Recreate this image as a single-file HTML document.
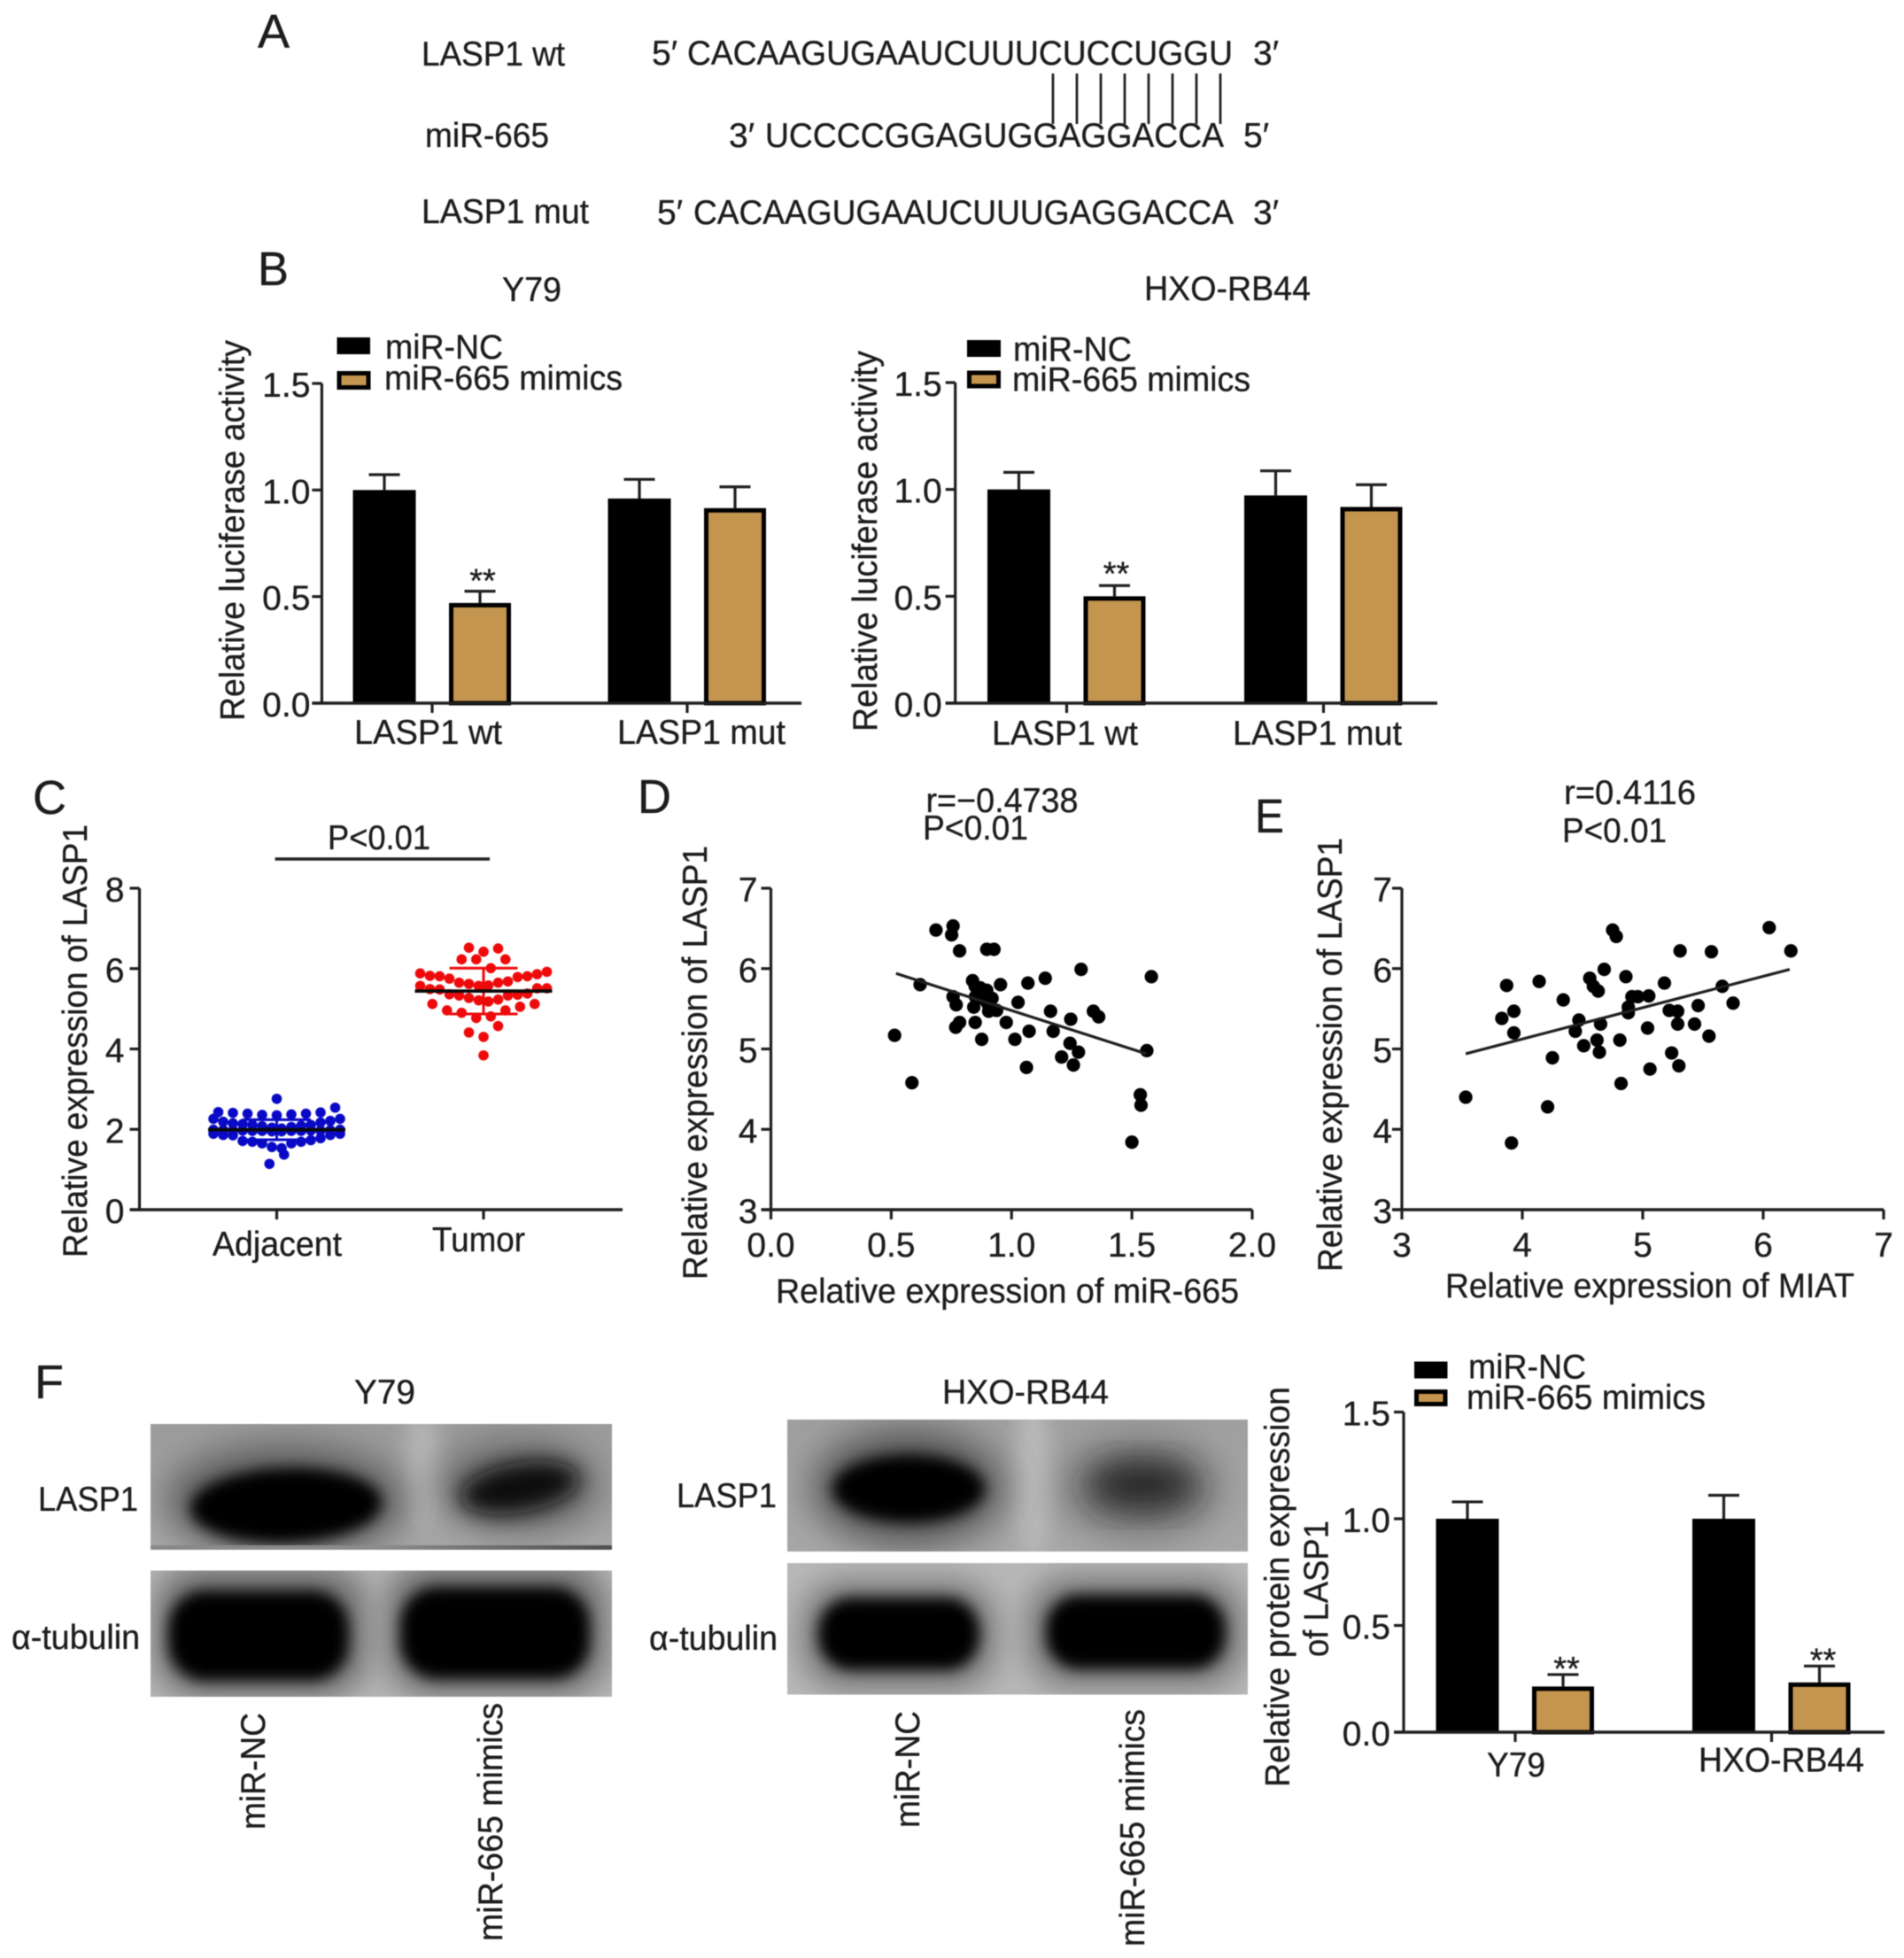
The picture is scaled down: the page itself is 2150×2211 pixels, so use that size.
<!DOCTYPE html>
<html lang="en">
<head>
<meta charset="utf-8">
<title>LASP1 and miR-665 figure</title>
<style>
html,body{margin:0;padding:0;background:#fff;}
#figure{display:block;width:2150px;height:2211px;filter:blur(0.6px);}
text{font-family:"Liberation Sans",sans-serif;font-size:39px;fill:#1c1c1c;stroke:#1c1c1c;stroke-width:0.35px;}
.letter{font-size:54px;}
</style>
</head>
<body>
<svg id="figure" xmlns="http://www.w3.org/2000/svg" width="2150" height="2211" viewBox="0 0 2150 2211">
<defs>
  <filter id="blur-core" x="-40%" y="-40%" width="180%" height="180%"><feGaussianBlur stdDeviation="8"/></filter>
  <filter id="blur-small" x="-40%" y="-40%" width="180%" height="180%"><feGaussianBlur stdDeviation="12"/></filter>
  <filter id="blur-mid" x="-40%" y="-40%" width="180%" height="180%"><feGaussianBlur stdDeviation="17"/></filter>
  <filter id="blur-large" x="-50%" y="-50%" width="200%" height="200%"><feGaussianBlur stdDeviation="22"/></filter>
  <clipPath id="clip-y79-lasp1"><rect x="170" y="1608" width="521" height="142"/></clipPath>
  <clipPath id="clip-y79-tubulin"><rect x="170" y="1773.5" width="521" height="142.5"/></clipPath>
  <clipPath id="clip-hxo-lasp1"><rect x="889" y="1603" width="520" height="149"/></clipPath>
  <clipPath id="clip-hxo-tubulin"><rect x="889" y="1765" width="520" height="148.6"/></clipPath>
  <linearGradient id="grad-y79-top" x1="0" y1="0" x2="0" y2="1"><stop offset="0" stop-color="#9c9c9c"/><stop offset="1" stop-color="#a8a8a8"/></linearGradient>
  <linearGradient id="grad-hxo-top" x1="0" y1="0" x2="0" y2="1"><stop offset="0" stop-color="#a0a0a0"/><stop offset="1" stop-color="#a8a8a8"/></linearGradient>
  <linearGradient id="grad-y79-edge" x1="0" y1="0" x2="1" y2="0"><stop offset="0" stop-color="#888"/><stop offset="0.5" stop-color="#8c8c8c"/><stop offset="1" stop-color="#4e4e4e"/></linearGradient>
</defs>
<rect x="0" y="0" width="2150" height="2211" fill="#ffffff"/>

<g>
  <text class="letter" x="291" y="54" textLength="36" lengthAdjust="spacingAndGlyphs">A</text>
  <text x="476" y="74" textLength="162" lengthAdjust="spacingAndGlyphs">LASP1 wt</text>
  <text x="480" y="166" textLength="140" lengthAdjust="spacingAndGlyphs">miR-665</text>
  <text x="476" y="252" textLength="189" lengthAdjust="spacingAndGlyphs">LASP1 mut</text>
  <text x="736" y="73">5′</text>
  <text x="776" y="73" textLength="616" lengthAdjust="spacingAndGlyphs">CACAAGUGAAUCUUUCUCCUGGU</text>
  <text x="1415" y="73">3′</text>
  <text x="823" y="166">3′</text>
  <text x="864" y="166" textLength="518" lengthAdjust="spacingAndGlyphs">UCCCCGGAGUGGAGGACCA</text>
  <text x="1404" y="166">5′</text>
  <text x="742" y="253">5′</text>
  <text x="783" y="253" textLength="610" lengthAdjust="spacingAndGlyphs">CACAAGUGAAUCUUUGAGGACCA</text>
  <text x="1415" y="253">3′</text>
  <g stroke="#222" stroke-width="2.8">
    <line x1="1189" y1="83" x2="1189" y2="140"/>
    <line x1="1216" y1="83" x2="1216" y2="140"/>
    <line x1="1243" y1="83" x2="1243" y2="140"/>
    <line x1="1270" y1="83" x2="1270" y2="140"/>
    <line x1="1297" y1="83" x2="1297" y2="140"/>
    <line x1="1324" y1="83" x2="1324" y2="140"/>
    <line x1="1351" y1="83" x2="1351" y2="140"/>
    <line x1="1378" y1="83" x2="1378" y2="140"/>
  </g>
</g>

<g>
  <text class="letter" x="291" y="322" textLength="35" lengthAdjust="spacingAndGlyphs">B</text>
  <text x="567" y="340" textLength="67" lengthAdjust="spacingAndGlyphs">Y79</text>
  <text x="1292" y="339" textLength="188" lengthAdjust="spacingAndGlyphs">HXO-RB44</text>
  <text transform="translate(275.5,814) rotate(-90)" textLength="430" lengthAdjust="spacingAndGlyphs">Relative luciferase activity</text>
  <text transform="translate(990,826) rotate(-90)" textLength="430" lengthAdjust="spacingAndGlyphs">Relative luciferase activity</text>
  <rect x="380.5" y="381" width="37.5" height="19" fill="#000"/>
  <rect x="383" y="421.5" width="33" height="16" fill="#c4954f" stroke="#000" stroke-width="5"/>
  <text x="435" y="405" textLength="133" lengthAdjust="spacingAndGlyphs">miR-NC</text>
  <text x="434" y="440" textLength="269" lengthAdjust="spacingAndGlyphs">miR-665 mimics</text>
  <rect x="1092" y="384" width="38" height="19" fill="#000"/>
  <rect x="1094.5" y="421" width="33" height="15" fill="#c4954f" stroke="#000" stroke-width="5"/>
  <text x="1144" y="407.6" textLength="134" lengthAdjust="spacingAndGlyphs">miR-NC</text>
  <text x="1143" y="441.7" textLength="269" lengthAdjust="spacingAndGlyphs">miR-665 mimics</text>
  <text x="400" y="840" textLength="167" lengthAdjust="spacingAndGlyphs">LASP1 wt</text>
  <text x="697" y="840" textLength="190" lengthAdjust="spacingAndGlyphs">LASP1 mut</text>
  <text x="1120" y="841" textLength="165" lengthAdjust="spacingAndGlyphs">LASP1 wt</text>
  <text x="1392" y="841" textLength="191" lengthAdjust="spacingAndGlyphs">LASP1 mut</text>
</g>

<g>
  <text class="letter" x="37" y="919" textLength="38" lengthAdjust="spacingAndGlyphs">C</text>
  <text x="370" y="959" textLength="116" lengthAdjust="spacingAndGlyphs">P&lt;0.01</text>
  <line x1="310.6" y1="970" x2="553" y2="970" stroke="#222" stroke-width="3.6"/>
  <text transform="translate(98,1420) rotate(-90)" textLength="489" lengthAdjust="spacingAndGlyphs">Relative expression of LASP1</text>
  <text x="240" y="1418" textLength="146" lengthAdjust="spacingAndGlyphs">Adjacent</text>
  <text x="488" y="1413" textLength="105" lengthAdjust="spacingAndGlyphs">Tumor</text>
</g>

<g>
  <text class="letter" x="720" y="918" textLength="38" lengthAdjust="spacingAndGlyphs">D</text>
  <text x="1045.5" y="917" textLength="172" lengthAdjust="spacingAndGlyphs">r=−0.4738</text>
  <text x="1042" y="948" textLength="119" lengthAdjust="spacingAndGlyphs">P&lt;0.01</text>
  <text transform="translate(798,1445) rotate(-90)" textLength="490" lengthAdjust="spacingAndGlyphs">Relative expression of LASP1</text>
  <text x="876" y="1471" textLength="523" lengthAdjust="spacingAndGlyphs">Relative expression of miR-665</text>
</g>

<g>
  <text class="letter" x="1417" y="940" textLength="33" lengthAdjust="spacingAndGlyphs">E</text>
  <text x="1766" y="908" textLength="149" lengthAdjust="spacingAndGlyphs">r=0.4116</text>
  <text x="1764" y="951" textLength="118" lengthAdjust="spacingAndGlyphs">P&lt;0.01</text>
  <text transform="translate(1515,1436) rotate(-90)" textLength="490" lengthAdjust="spacingAndGlyphs">Relative expression of LASP1</text>
  <text x="1632" y="1465" textLength="462" lengthAdjust="spacingAndGlyphs">Relative expression of MIAT</text>
</g>

<g>
  <text class="letter" x="39" y="1579" textLength="33" lengthAdjust="spacingAndGlyphs">F</text>
  <text x="400" y="1585" textLength="69" lengthAdjust="spacingAndGlyphs">Y79</text>
  <text x="1064" y="1585" textLength="188" lengthAdjust="spacingAndGlyphs">HXO-RB44</text>

  <g clip-path="url(#clip-y79-lasp1)">
    <rect x="170" y="1608" width="521" height="142" fill="url(#grad-y79-top)"/>
    <ellipse cx="477" cy="1660" rx="20" ry="70" fill="#b8b8b8" filter="url(#blur-small)"/>
    <ellipse cx="323" cy="1695" rx="135" ry="62" fill="#565656" filter="url(#blur-large)"/>
    <ellipse cx="323" cy="1700" rx="108" ry="42" fill="#000" filter="url(#blur-core)" transform="rotate(-2 323 1700)"/>
    <ellipse cx="587" cy="1678" rx="92" ry="52" fill="#666" filter="url(#blur-large)"/>
    <ellipse cx="587" cy="1680" rx="68" ry="28" fill="#111" filter="url(#blur-small)" transform="rotate(-10 587 1680)"/>
    <rect x="170" y="1745" width="521" height="5" fill="url(#grad-y79-edge)"/>
  </g>
  <g clip-path="url(#clip-y79-tubulin)">
    <rect x="170" y="1773.5" width="521" height="142.5" fill="#b6b6b6"/>
    <rect x="175" y="1768" width="240" height="148" rx="50" fill="#6e6e6e" filter="url(#blur-mid)"/>
    <rect x="436" y="1764" width="250" height="150" rx="50" fill="#6e6e6e" filter="url(#blur-mid)"/>
    <rect x="190" y="1796" width="204" height="102" rx="42" fill="#000" filter="url(#blur-core)"/>
    <rect x="452" y="1792" width="214" height="104" rx="42" fill="#000" filter="url(#blur-core)"/>
  </g>
  <g clip-path="url(#clip-hxo-lasp1)">
    <rect x="889" y="1603" width="520" height="149" fill="url(#grad-hxo-top)"/>
    <ellipse cx="1166" cy="1670" rx="20" ry="90" fill="#bcbcbc" filter="url(#blur-small)"/>
    <ellipse cx="1026" cy="1680" rx="108" ry="64" fill="#505050" filter="url(#blur-large)"/>
    <ellipse cx="1026" cy="1681" rx="86" ry="38" fill="#000" filter="url(#blur-core)"/>
    <ellipse cx="1288" cy="1680" rx="88" ry="56" fill="#737373" filter="url(#blur-large)"/>
    <ellipse cx="1290" cy="1677" rx="60" ry="28" fill="#2c2c2c" filter="url(#blur-mid)"/>
  </g>
  <g clip-path="url(#clip-hxo-tubulin)">
    <rect x="889" y="1765" width="520" height="148.6" fill="#b8b8b8"/>
    <rect x="905" y="1785" width="220" height="122" rx="48" fill="#777" filter="url(#blur-mid)"/>
    <rect x="1160" y="1780" width="245" height="125" rx="48" fill="#777" filter="url(#blur-mid)"/>
    <rect x="924" y="1804" width="182" height="82" rx="38" fill="#000" filter="url(#blur-core)"/>
    <rect x="1181" y="1801" width="203" height="84" rx="38" fill="#000" filter="url(#blur-core)"/>
  </g>

  <text x="43" y="1706" textLength="113" lengthAdjust="spacingAndGlyphs">LASP1</text>
  <text x="13" y="1862" textLength="145" lengthAdjust="spacingAndGlyphs">α-tubulin</text>
  <text x="764" y="1702" textLength="113" lengthAdjust="spacingAndGlyphs">LASP1</text>
  <text x="733" y="1863" textLength="145" lengthAdjust="spacingAndGlyphs">α-tubulin</text>
  <text transform="translate(299,2066) rotate(-90)" textLength="132" lengthAdjust="spacingAndGlyphs">miR-NC</text>
  <text transform="translate(567,2192) rotate(-90)" textLength="269" lengthAdjust="spacingAndGlyphs">miR-665 mimics</text>
  <text transform="translate(1038,2064) rotate(-90)" textLength="132" lengthAdjust="spacingAndGlyphs">miR-NC</text>
  <text transform="translate(1292,2198) rotate(-90)" textLength="268" lengthAdjust="spacingAndGlyphs">miR-665 mimics</text>
</g>

<g>
  <text transform="translate(1455.5,2018) rotate(-90)" textLength="452" lengthAdjust="spacingAndGlyphs">Relative protein expression</text>
  <text transform="translate(1499.5,1871) rotate(-90)" textLength="154" lengthAdjust="spacingAndGlyphs">of LASP1</text>
  <rect x="1597" y="1537.5" width="37.5" height="19" fill="#000"/>
  <rect x="1599.5" y="1571.5" width="32.5" height="14" fill="#c4954f" stroke="#000" stroke-width="5"/>
  <text x="1658" y="1556.6" textLength="133" lengthAdjust="spacingAndGlyphs">miR-NC</text>
  <text x="1656" y="1591" textLength="270" lengthAdjust="spacingAndGlyphs">miR-665 mimics</text>
  <text x="1679" y="2006" textLength="66" lengthAdjust="spacingAndGlyphs">Y79</text>
  <text x="1918" y="2000.6" textLength="187" lengthAdjust="spacingAndGlyphs">HXO-RB44</text>
</g>

<g id="charts"></g>
</svg>

<script>
// ---- Panel B / F bar data ----
const barTickLabels = ['0.0', '0.5', '1.0', '1.5'];
const barTickValues = [0, 0.5, 1, 1.5];
const y79Control = [1.0, 0.96];
const y79Mimics = [0.47, 0.915];
const y79ControlErr = [0.072, 0.09];
const y79MimicsErr = [0.055, 0.10];
const y79Stars = ['**', ''];
const hxoControl = [1.0, 0.972];
const hxoMimics = [0.5, 0.918];
const hxoControlErr = [0.08, 0.115];
const hxoMimicsErr = [0.05, 0.104];
const hxoStars = ['**', ''];
const proteinControl = [1.0, 1.0];
const proteinMimics = [0.214, 0.233];
const proteinControlErr = [0.079, 0.11];
const proteinMimicsErr = [0.056, 0.077];
const proteinStars = ['**', '**'];

// ---- Panel C swarm data (each group listed left to right) ----
const swarmTickLabels = ['0', '2', '4', '6', '8'];
const swarmTickValues = [0, 2, 4, 6, 8];
const adjacentGroups = [
  [2.76],
  [2.43, 2.41, 2.39, 2.36, 2.35, 2.37, 2.39, 2.42, 2.54],
  [2.26, 2.19, 2.15, 2.13, 2.11, 2.08, 2.04, 2.02, 2.06, 2.09, 2.11, 2.17, 2.21, 2.26],
  [1.99, 1.98, 1.97, 1.97, 1.96, 1.96, 1.95, 1.95, 1.96, 1.96, 1.97, 1.97, 1.98, 1.99],
  [1.89, 1.86, 1.85, 1.71, 1.69, 1.65, 1.56, 1.53, 1.65, 1.69, 1.73, 1.78, 1.86, 1.89],
  [1.14, 1.37]
];
const tumorGroups = [
  [6.52, 6.42, 6.50],
  [6.23, 6.23, 6.01, 6.23],
  [5.88, 5.82, 5.81, 5.75, 5.65, 5.62, 5.57, 5.58, 5.65, 5.68, 5.79, 5.81, 5.86, 5.92],
  [5.57, 5.49, 5.48, 5.36, 5.33, 5.27, 5.21, 5.18, 5.23, 5.33, 5.35, 5.38, 5.51, 5.51],
  [5.12, 4.96, 4.90, 4.77, 4.81, 4.96, 5.05, 5.12],
  [4.41, 4.30, 4.57],
  [3.84]
];
const adjacentMean = 1.99;
const adjacentSD = 0.25;
const tumorMean = 5.44;
const tumorSD = 0.57;

// ---- Panel D scatter data ----
const scatterYTicks = [3, 4, 5, 6, 7];
const mirTickValues = [0, 0.5, 1, 1.5, 2];
const mirTickLabels = ['0.0', '0.5', '1.0', '1.5', '2.0'];
const mirX = [0.514,0.586,0.62,0.686,0.757,0.751,0.784,0.897,0.927,0.757,0.77,0.768,0.784,0.838,0.849,0.87,0.897,0.85,0.843,0.849,0.876,0.878,0.90,0.919,0.905,0.938,0.954,0.978,1.014,1.027,1.068,1.073,1.062,1.14,1.162,1.173,1.243,1.246,1.208,1.278,1.257,1.289,1.34,1.362,1.562,1.581,1.535,1.538,1.50];
const mirY = [5.17,4.58,5.80,6.48,6.53,6.42,6.22,6.24,6.24,5.65,5.55,5.27,5.33,5.85,5.78,5.76,5.73,5.65,5.52,5.33,5.12,5.63,5.57,5.63,5.47,5.48,5.80,5.33,5.12,5.58,5.82,5.22,4.77,5.88,5.47,5.22,5.07,5.37,4.90,4.96,4.80,5.99,5.47,5.40,4.98,5.90,4.43,4.30,3.84];
const mirFitX = [0.52, 1.56];
const mirFitY = [5.94, 4.94];

// ---- Panel E scatter data ----
const miatTickValues = [3, 4, 5, 6, 7];
const miatX = [3.53,3.91,4.21,3.83,3.87,3.93,3.93,4.14,4.25,4.34,4.44,4.47,4.51,4.56,4.59,4.63,4.62,4.64,4.65,4.68,4.75,4.78,4.81,4.82,4.86,4.88,4.88,4.91,4.96,5.05,5.04,5.06,5.18,5.22,5.29,5.24,5.30,5.29,5.31,5.43,5.46,5.55,5.57,5.66,5.75,6.05,6.23];
const miatY = [4.40,3.83,4.28,5.38,5.79,5.47,5.20,5.84,4.89,5.61,5.22,5.36,5.04,5.88,5.78,5.72,5.11,4.96,5.31,5.99,6.48,6.40,5.11,4.57,5.90,5.52,5.45,5.65,5.65,5.66,5.26,4.75,5.82,5.48,5.47,4.95,4.79,5.31,6.22,5.31,5.54,5.16,6.21,5.78,5.57,6.51,6.22];
const miatFitX = [3.53, 6.22];
const miatFitY = [4.94, 5.99];

// ---- helpers ----
const SVG_NS = 'http://www.w3.org/2000/svg';
const INK = '#1f1f1f';
const TAN = '#c4954f';
const root = document.getElementById('charts');
function add(parent, tag, attrs) {
  const el = document.createElementNS(SVG_NS, tag);
  for (const k in attrs) el.setAttribute(k, attrs[k]);
  parent.appendChild(el);
  return el;
}
function linear(d0, d1, r0, r1) {
  return v => r0 + (v - d0) * (r1 - r0) / (d1 - d0);
}
function group(name) {
  const g = add(root, 'g', {});
  
  
  return g;
}
function drawYAxis(g, axisX, y, values, labels, gap) {
  const spine = add(g, 'line', {x1: axisX, x2: axisX, y1: y(values[values.length - 1]), y2: y(values[0]), stroke: INK, 'stroke-width': 3.2});
  
  
  values.forEach((v, i) => {
    const t = add(g, 'line', {x1: axisX - 11, x2: axisX, y1: y(v), y2: y(v), stroke: INK, 'stroke-width': 3.2});
    
    
    const l = add(g, 'text', {x: axisX - gap, y: y(v) + 15, 'text-anchor': 'end'});
    
    
    l.textContent = labels[i];
  });
}
function drawXLine(g, x0, x1, yy) {
  const spine = add(g, 'line', {x1: x0, x2: x1, y1: yy, y2: yy, stroke: INK, 'stroke-width': 3.4});
  
  
}
function drawXTick(g, x, yy) {
  const t = add(g, 'line', {x1: x, x2: x, y1: yy, y2: yy + 11, stroke: INK, 'stroke-width': 3.2});
  
  
}

// ---- bar charts ----
function drawBarChart(cfg) {
  const g = group(cfg.name);
  const y = linear(0, 1.5, cfg.y0, cfg.y15);
  const xCat = i => cfg.tick0 + i * cfg.step;
  drawYAxis(g, cfg.axisX, y, barTickValues, barTickLabels, cfg.gap);
  cfg.control.forEach((v, i) => {
    drawXTick(g, xCat(i), cfg.y0);
    const cx0 = xCat(i) - 54, cx1 = xCat(i) + 54;
    const e0 = add(g, 'path', {d: 'M' + cx0 + ' ' + y(v) + 'V' + y(v + cfg.controlErr[i]) + 'm-17.5 0h35', stroke: INK, 'stroke-width': 3.2, fill: 'none'});
    
    
    const b0 = add(g, 'rect', {x: cx0 - 35.5, y: y(v), width: 71, height: cfg.y0 - y(v), fill: '#000'});
    
    
    const m = cfg.mimics[i];
    const e1 = add(g, 'path', {d: 'M' + cx1 + ' ' + y(m) + 'V' + y(m + cfg.mimicsErr[i]) + 'm-17.5 0h35', stroke: INK, 'stroke-width': 3.2, fill: 'none'});
    
    
    const b1 = add(g, 'rect', {x: cx1 - 32.5, y: y(m) + 2.5, width: 65, height: cfg.y0 - y(m) - 2.5, fill: TAN, stroke: '#000', 'stroke-width': 5});
    
    
    if (cfg.stars[i]) {
      const s = add(g, 'text', {x: cx1 + cfg.starDx, y: y(m + cfg.mimicsErr[i]) + cfg.starDy, 'text-anchor': 'middle', style: 'font-size:38px'});
      
      
      s.textContent = cfg.stars[i];
    }
  });
  drawXLine(g, cfg.axisX - 11, cfg.xEnd, cfg.y0);
}
drawBarChart({name: 'y79-luciferase-chart', y0: 794, y15: 433, axisX: 363.4, tick0: 488, step: 288, xEnd: 905, gap: 13, starDy: 1, starDx: 3,
  control: y79Control, mimics: y79Mimics, controlErr: y79ControlErr, mimicsErr: y79MimicsErr, stars: y79Stars});
drawBarChart({name: 'hxo-luciferase-chart', y0: 794, y15: 432, axisX: 1078.7, tick0: 1204.5, step: 290, xEnd: 1623, gap: 15, starDy: -1, starDx: 2,
  control: hxoControl, mimics: hxoMimics, controlErr: hxoControlErr, mimicsErr: hxoMimicsErr, stars: hxoStars});
drawBarChart({name: 'protein-expression-chart', y0: 1956, y15: 1594.5, axisX: 1585, tick0: 1711, step: 289.5, xEnd: 2128, gap: 15, starDy: 6, starDx: 4,
  control: proteinControl, mimics: proteinMimics, controlErr: proteinControlErr, mimicsErr: proteinMimicsErr, stars: proteinStars});

// ---- swarm chart ----
const swarmY = linear(0, 8, 1366, 1003);
const swarmXPositions = [312.5, 546];
function drawSwarm(g, groups, cx, color, mean, sd) {
  const vLine = add(g, 'path', {d: 'M' + cx + ' ' + swarmY(mean + sd) + 'V' + swarmY(mean - sd) + 'M' + (cx - 38.5) + ' ' + swarmY(mean + sd) + 'h77M' + (cx - 38.5) + ' ' + swarmY(mean - sd) + 'h77', stroke: color, 'stroke-width': 3, fill: 'none'});
  
  
  groups.forEach(values => {
    const n = values.length;
    const slot = n > 1 ? Math.min(16.5, 143 / (n - 1)) : 0;
    values.forEach((v, i) => {
      const c = add(g, 'circle', {cx: cx + (i - (n - 1) / 2) * slot, cy: swarmY(v), r: 5.8, fill: color});
      
      
    });
  });
  const m = add(g, 'line', {x1: cx - 77.5, x2: cx + 77.5, y1: swarmY(mean), y2: swarmY(mean), stroke: '#0a0a0a', 'stroke-width': 3.8});
  
  
}
(function () {
  const g = group('lasp1-swarm-chart');
  drawYAxis(g, 157.5, swarmY, swarmTickValues, swarmTickLabels, 17);
  drawXLine(g, 146.5, 703, 1366);
  swarmXPositions.forEach(x => drawXTick(g, x, 1366));
  drawSwarm(g, adjacentGroups, swarmXPositions[0], '#0a0ac6', adjacentMean, adjacentSD);
  drawSwarm(g, tumorGroups, swarmXPositions[1], '#ee0a0a', tumorMean, tumorSD);
})();

// ---- scatter charts ----
function drawScatter(cfg) {
  const g = group(cfg.name);
  const y = linear(3, 7, 1366, 1003);
  const x = linear(cfg.xTicks[0], cfg.xTicks[cfg.xTicks.length - 1], cfg.axisX, cfg.xEnd);
  drawYAxis(g, cfg.axisX, y, scatterYTicks, scatterYTicks.map(String), cfg.gap);
  drawXLine(g, cfg.axisX - 11, cfg.xEnd, 1366);
  cfg.xTicks.forEach((v, i) => {
    drawXTick(g, x(v), 1366);
    const l = add(g, 'text', {x: x(v), y: 1419, 'text-anchor': 'middle'});
    
    
    l.textContent = cfg.xLabels[i];
  });
  cfg.xs.forEach((v, i) => {
    const c = add(g, 'circle', {cx: x(v), cy: y(cfg.ys[i]), r: 7.6, fill: '#000'});
    
    
  });
  const fit = add(g, 'line', {x1: x(cfg.fitX[0]), y1: y(cfg.fitY[0]), x2: x(cfg.fitX[1]), y2: y(cfg.fitY[1]), stroke: INK, 'stroke-width': 3.2});
  
  
}
drawScatter({name: 'mir-665-scatter-chart', axisX: 870.5, xEnd: 1414, gap: 15, xTicks: mirTickValues, xLabels: mirTickLabels, xs: mirX, ys: mirY, fitX: mirFitX, fitY: mirFitY});
drawScatter({name: 'miat-scatter-chart', axisX: 1583, xEnd: 2127, gap: 11, xTicks: miatTickValues, xLabels: miatTickValues.map(String), xs: miatX, ys: miatY, fitX: miatFitX, fitY: miatFitY});
</script>
</body>
</html>
